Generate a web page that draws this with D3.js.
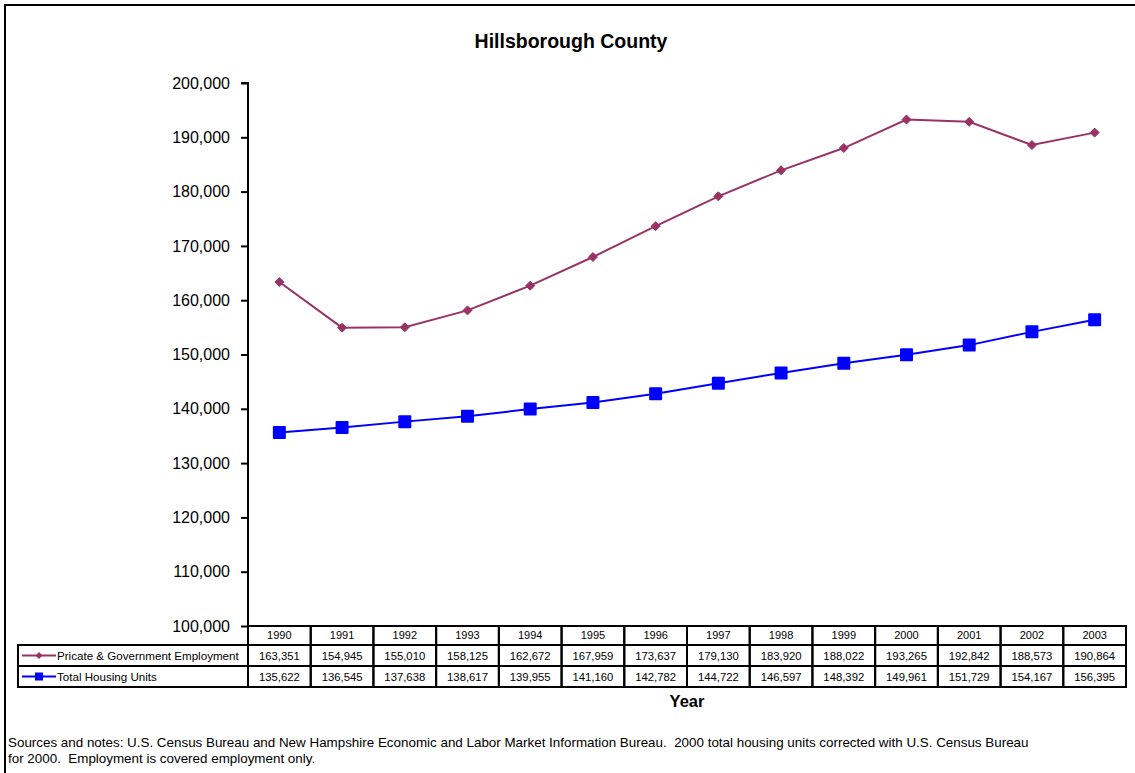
<!DOCTYPE html>
<html>
<head>
<meta charset="utf-8">
<script src="https://cdn.jsdelivr.net/npm/d3@7"></script>
<style>
  html, body { margin: 0; padding: 0; background: #fff; }
  svg { display: block; font-family: Arial, "Liberation Sans", sans-serif; }
</style>
</head>
<body>
<svg id="chart" width="1135" height="773"></svg>
<script>
// Hillsborough County: employment and housing units by year
const years = ["1990","1991","1992","1993","1994","1995","1996","1997","1998","1999","2000","2001","2002","2003"];
const employment = [163351,154945,155010,158125,162672,167959,173637,179130,183920,188022,193265,192842,188573,190864];
const housing = [135622,136545,137638,138617,139955,141160,142782,144722,146597,148392,149961,151729,154167,156395];
const seriesNames = ["Pricate & Government Employment", "Total Housing Units"];
const yTicks = [100000,110000,120000,130000,140000,150000,160000,170000,180000,190000,200000];

const svg = d3.select("#chart");
const W = 1135, H = 773;
const plot = { left: 248, right: 1126, top: 83, bottom: 626 };
const empColor = "#993366", housColor = "#0000FF";

// outer frame (left and top edges)
svg.append("path")
  .attr("d", `M5,${H} V5 H${W}`)
  .attr("fill", "none").attr("stroke", "#000").attr("stroke-width", 2);

// title
svg.append("text").attr("x", 571).attr("y", 48).attr("text-anchor", "middle")
  .attr("font-size", 19.5).attr("font-weight", "bold").text("Hillsborough County");

const x = d3.scaleBand().domain(years).range([plot.left, plot.right]);
const y = d3.scaleLinear().domain([100000, 200000]).range([plot.bottom, plot.top]);

// y axis
const yAxis = svg.append("g").attr("transform", `translate(${plot.left},0)`)
  .call(d3.axisLeft(y).tickValues(yTicks).tickSize(7).tickPadding(11).tickFormat(d3.format(",")));
yAxis.select(".domain").attr("stroke-width", 2).attr("d", `M-7,${plot.top}H0V${plot.bottom}`);
yAxis.selectAll(".tick line").attr("stroke-width", 2);
yAxis.selectAll(".tick text").attr("font-size", 16).attr("fill", "#000")
  .attr("font-family", "Arial, 'Liberation Sans', sans-serif");

// series lines and markers
const lineGen = d3.line().x((d, i) => x(years[i]) + x.bandwidth() / 2).y(d => y(d));
svg.append("path").datum(employment).attr("d", lineGen)
  .attr("fill", "none").attr("stroke", empColor).attr("stroke-width", 2);
svg.append("path").datum(housing).attr("d", lineGen)
  .attr("fill", "none").attr("stroke", housColor).attr("stroke-width", 2);

const diamond = s => `M0,${-s}L${s},0L0,${s}L${-s},0Z`;
svg.append("g").selectAll("path").data(employment).join("path")
  .attr("transform", (d, i) => `translate(${x(years[i]) + x.bandwidth() / 2},${y(d)})`)
  .attr("d", diamond(4.5)).attr("fill", empColor).attr("stroke", empColor).attr("stroke-width", 1);
svg.append("g").selectAll("rect").data(housing).join("rect")
  .attr("x", (d, i) => x(years[i]) + x.bandwidth() / 2 - 6.5)
  .attr("y", d => y(d) - 6.5).attr("width", 13).attr("height", 13).attr("rx", 1)
  .attr("fill", housColor);

// data table below the plot
const rowTop = [plot.bottom, 645, 666, 687];
const tableLeft = 18;
const fmt = d3.format(",");
const tbl = svg.append("g");
const cellStroke = g => g.attr("fill", "none").attr("stroke", "#000").attr("stroke-width", 2);

// header row (years)
years.forEach(yr => {
  tbl.append("rect").attr("x", x(yr)).attr("y", rowTop[0])
    .attr("width", x.bandwidth()).attr("height", rowTop[1] - rowTop[0]).call(cellStroke);
  tbl.append("text").attr("x", x(yr) + x.bandwidth() / 2).attr("y", rowTop[1] - 6)
    .attr("text-anchor", "middle").attr("font-size", 11).text(yr);
});

[employment, housing].forEach((vals, r) => {
  const top = rowTop[r + 1], h = rowTop[r + 2] - top;
  tbl.append("rect").attr("x", tableLeft).attr("y", top)
    .attr("width", plot.left - tableLeft).attr("height", h).call(cellStroke);
  vals.forEach((v, i) => {
    tbl.append("rect").attr("x", x(years[i])).attr("y", top)
      .attr("width", x.bandwidth()).attr("height", h).call(cellStroke);
    tbl.append("text").attr("x", x(years[i]) + x.bandwidth() / 2).attr("y", top + h - 6)
      .attr("text-anchor", "middle").attr("font-size", 11.3).text(fmt(v));
  });
  // legend key inside the label cell
  const color = r === 0 ? empColor : housColor;
  const cy = top + h / 2;
  tbl.append("line").attr("x1", 22).attr("x2", 56).attr("y1", cy).attr("y2", cy)
    .attr("stroke", color).attr("stroke-width", 2);
  if (r === 0) {
    tbl.append("path").attr("transform", `translate(39,${cy})`).attr("d", diamond(3.5)).attr("fill", color);
  } else {
    tbl.append("rect").attr("x", 35).attr("y", cy - 4).attr("width", 8).attr("height", 8).attr("fill", color);
  }
  tbl.append("text").attr("x", 57).attr("y", top + h - 6).attr("font-size", 11.6).text(seriesNames[r]);
});

// axis title
svg.append("text").attr("x", 687).attr("y", 707).attr("text-anchor", "middle")
  .attr("font-size", 16.5).attr("font-weight", "bold").text("Year");

// sources note
const notes = [
  "Sources and notes: U.S. Census Bureau and New Hampshire Economic and Labor Market Information Bureau.  2000 total housing units corrected with U.S. Census Bureau",
  "for 2000.  Employment is covered employment only."
];
svg.append("g").selectAll("text").data(notes).join("text")
  .attr("x", 8).attr("y", (d, i) => 747 + i * 16).attr("font-size", 13.4)
  .attr("xml:space", "preserve").style("white-space", "pre").text(d => d);
</script>
</body>
</html>
